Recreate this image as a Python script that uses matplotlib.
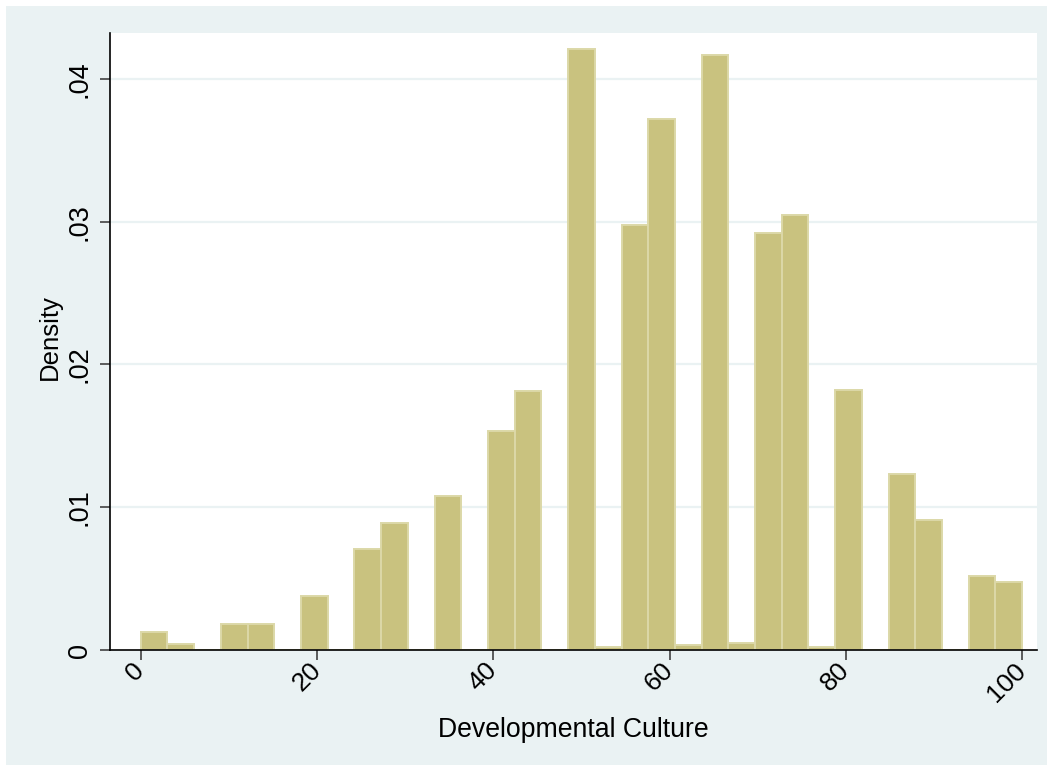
import numpy as np
import matplotlib
matplotlib.use("Agg")
import matplotlib.pyplot as plt
from matplotlib.patches import Rectangle

# Histogram of Developmental Culture: 33 equal-width bins over [0, 100]
bin_start = 0.0
bin_end = 100.0
n_bins = 33
density = [
    0.00128, 0.00044, 0.0, 0.00184, 0.00184, 0.0, 0.00380, 0.0,
    0.00705, 0.00888, 0.0, 0.01081, 0.0, 0.01532, 0.01812, 0.0,
    0.04210, 0.00019, 0.02977, 0.03718, 0.00033, 0.04170, 0.00047,
    0.02919, 0.03045, 0.00020, 0.01824, 0.0, 0.01235, 0.00913, 0.0,
    0.00521, 0.00479,
]
x_ticks = [0, 20, 40, 60, 80, 100]
y_ticks = [0, 0.01, 0.02, 0.03, 0.04]
y_tick_labels = ["0", ".01", ".02", ".03", ".04"]
x_label = "Developmental Culture"
y_label = "Density"

bg = "#EAF2F3"
fill = "#C9C27F"
edge = "#DCD8A8"

plt.rcParams["font.family"] = ["Liberation Sans", "DejaVu Sans"]

fig = plt.figure(figsize=(10.53, 7.71), dpi=100, facecolor="white")
fig.patches.append(Rectangle((6 / 1053, 6 / 771), 1041 / 1053, 759 / 771,
                             transform=fig.transFigure, facecolor=bg,
                             edgecolor="none", zorder=-10))

ax = fig.add_axes([110 / 1053, (771 - 650) / 771, 927 / 1053, 617 / 771])
ax.set_zorder(1)
ax.set_facecolor("white")

edges = np.linspace(bin_start, bin_end, n_bins + 1)
width = edges[1] - edges[0]
ax.bar(edges[:-1], density, width=width, align="edge", color=fill,
       edgecolor=edge, linewidth=1.4, zorder=3)

ax.set_xlim(-3.48, 101.68)
ax.set_ylim(0, 0.04322)

ax.set_yticks(y_ticks)
ax.set_yticklabels(y_tick_labels, rotation=90, va="center", fontsize=19.5)
ax.set_xticks(x_ticks)
ax.set_xticklabels([str(t) for t in x_ticks], rotation=45, ha="right",
                   va="center", rotation_mode="anchor", fontsize=19)

for y in y_ticks[1:]:
    ax.axhline(y, color=bg, linewidth=1.6, zorder=1)

for side in ("top", "right"):
    ax.spines[side].set_visible(False)
for side in ("left", "bottom"):
    ax.spines[side].set_linewidth(1.2)
    ax.spines[side].set_color("black")
    ax.spines[side].set_zorder(5)

ax.tick_params(axis="both", direction="out", length=7, width=1.1,
               color="#333333")
ax.tick_params(axis="y", pad=5.5)
ax.tick_params(axis="x", pad=5)

ax.set_xlabel(x_label, fontsize=19.2)
ax.set_ylabel(y_label, fontsize=18.5)
ax.xaxis.set_label_coords(0.5, -0.1086)
ax.yaxis.set_label_coords(-0.0518, 0.507)

fig.savefig("out.png", dpi=100, facecolor="white")
